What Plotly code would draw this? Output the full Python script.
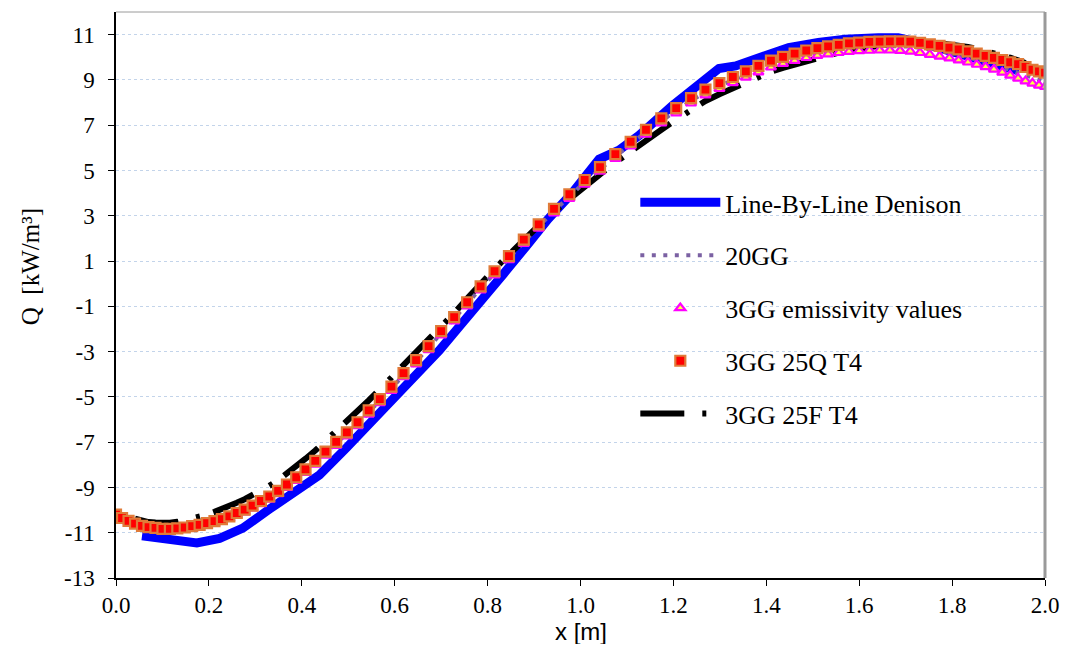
import plotly.graph_objects as go

# ---------------- data ----------------
x_grid = [0.000, 0.013, 0.027, 0.041, 0.056, 0.070, 0.085, 0.100, 0.116, 0.132,
          0.148, 0.164, 0.180, 0.196, 0.212, 0.228, 0.244, 0.260, 0.277, 0.294,
          0.312, 0.330, 0.349, 0.368, 0.388, 0.408, 0.429, 0.451, 0.474, 0.497,
          0.520, 0.544, 0.568, 0.593, 0.619, 0.646, 0.673, 0.700, 0.728, 0.756,
          0.785, 0.815, 0.846, 0.878, 0.910, 0.943, 0.976, 1.009, 1.042, 1.075,
          1.108, 1.141, 1.174, 1.206, 1.238, 1.269, 1.299, 1.328, 1.356, 1.383,
          1.410, 1.436, 1.461, 1.486, 1.510, 1.533, 1.556, 1.578, 1.600, 1.622,
          1.644, 1.666, 1.688, 1.710, 1.731, 1.752, 1.773, 1.794, 1.814, 1.834,
          1.853, 1.872, 1.890, 1.908, 1.925, 1.942, 1.958, 1.973, 1.987, 2.000]

q_25q = [-10.20, -10.35, -10.48, -10.60, -10.70, -10.75, -10.79, -10.83, -10.83, -10.81,
         -10.77, -10.71, -10.65, -10.58, -10.49, -10.40, -10.28, -10.13, -9.98, -9.80,
         -9.60, -9.40, -9.15, -8.87, -8.55, -8.20, -7.83, -7.42, -6.99, -6.57,
         -6.12, -5.60, -5.10, -4.55, -3.95, -3.38, -2.76, -2.10, -1.48, -0.82,
         -0.12, 0.55, 1.22, 1.95, 2.62, 3.30, 3.95, 4.58, 5.15, 5.72,
         6.27, 6.80, 7.30, 7.75, 8.20, 8.57, 8.86, 9.13, 9.38, 9.62,
         9.85, 10.02, 10.16, 10.30, 10.40, 10.48, 10.55, 10.61, 10.65, 10.68,
         10.69, 10.70, 10.70, 10.69, 10.64, 10.57, 10.50, 10.43, 10.35, 10.26,
         10.16, 10.06, 9.97, 9.88, 9.78, 9.70, 9.57, 9.45, 9.38, 9.32]

q_emis = [-10.25, -10.40, -10.53, -10.65, -10.75, -10.81, -10.85, -10.89, -10.90, -10.88,
          -10.84, -10.79, -10.73, -10.67, -10.58, -10.49, -10.38, -10.24, -10.09, -9.92,
          -9.73, -9.53, -9.29, -9.01, -8.70, -8.35, -7.98, -7.58, -7.15, -6.73,
          -6.28, -5.77, -5.27, -4.72, -4.12, -3.55, -2.93, -2.27, -1.65, -0.99,
          -0.29, 0.38, 1.05, 1.77, 2.44, 3.12, 3.76, 4.39, 4.96, 5.52,
          6.07, 6.59, 7.09, 7.53, 7.97, 8.33, 8.61, 8.87, 9.11, 9.34,
          9.56, 9.72, 9.85, 9.98, 10.07, 10.14, 10.20, 10.25, 10.28, 10.30,
          10.31, 10.31, 10.29, 10.26, 10.20, 10.12, 10.04, 9.96, 9.87, 9.78,
          9.68, 9.58, 9.47, 9.33, 9.20, 9.07, 8.95, 8.85, 8.76, 8.70]

q_20gg = [-10.22, -10.37, -10.50, -10.62, -10.72, -10.78, -10.82, -10.86, -10.86, -10.84,
          -10.80, -10.75, -10.69, -10.62, -10.53, -10.44, -10.33, -10.18, -10.03, -9.86,
          -9.66, -9.46, -9.22, -8.94, -8.62, -8.27, -7.90, -7.50, -7.07, -6.65,
          -6.20, -5.68, -5.18, -4.63, -4.03, -3.46, -2.84, -2.18, -1.56, -0.90,
          -0.20, 0.47, 1.14, 1.86, 2.53, 3.21, 3.86, 4.48, 5.05, 5.62,
          6.17, 6.70, 7.19, 7.64, 8.08, 8.45, 8.73, 9.00, 9.24, 9.48,
          9.70, 9.87, 10.00, 10.14, 10.23, 10.31, 10.37, 10.43, 10.47, 10.49,
          10.50, 10.50, 10.49, 10.47, 10.42, 10.35, 10.27, 10.19, 10.10, 10.00,
          9.89, 9.78, 9.67, 9.55, 9.43, 9.31, 9.19, 9.08, 8.99, 8.92]

x_25f = [0.041, 0.056, 0.070, 0.085, 0.100, 0.116, 0.132,
         0.148, 0.164, 0.180, 0.196, 0.212, 0.228, 0.244, 0.260, 0.277, 0.294,
         0.312, 0.330, 0.349, 0.368, 0.388, 0.408, 0.429, 0.451, 0.474, 0.497,
         0.520, 0.544, 0.568, 0.593, 0.619, 0.646, 0.673, 0.700, 0.728, 0.756,
         0.785, 0.815, 0.846, 0.878, 0.910, 0.943, 0.976, 1.009, 1.042, 1.075,
         1.108, 1.141, 1.174, 1.206, 1.238, 1.269, 1.299, 1.328, 1.356, 1.383,
         1.410, 1.436, 1.461, 1.486, 1.510, 1.533, 1.556, 1.578, 1.600, 1.622,
         1.644, 1.666, 1.688, 1.710, 1.731, 1.752, 1.773, 1.794, 1.814, 1.834,
         1.853, 1.872, 1.890, 1.908, 1.925, 1.942, 1.958]

q_25f = [-10.38, -10.48, -10.53, -10.55, -10.57, -10.56, -10.52,
         -10.45, -10.38, -10.30, -10.20, -10.08, -9.96, -9.83, -9.68, -9.52, -9.34,
         -9.14, -8.93, -8.68, -8.40, -8.08, -7.73, -7.37, -6.96, -6.53, -6.11,
         -5.66, -5.16, -4.67, -4.15, -3.62, -3.06, -2.47, -1.86, -1.30, -0.66,
         0.00, 0.65, 1.28, 1.96, 2.57, 3.18, 3.75, 4.33, 4.83, 5.35,
         5.85, 6.32, 6.80, 7.25, 7.70, 8.07, 8.37, 8.64, 8.89, 9.13,
         9.36, 9.53, 9.68, 9.84, 9.98, 10.10, 10.21, 10.30, 10.38, 10.46,
         10.52, 10.58, 10.63, 10.65, 10.66, 10.65, 10.62, 10.58, 10.53, 10.46,
         10.38, 10.29, 10.20, 10.10, 9.98, 9.86, 9.74]

x_lbl = [0.056, 0.115, 0.174, 0.223, 0.273, 0.331, 0.380, 0.438, 0.496, 0.552,
         0.610, 0.653, 0.696, 0.739, 0.788, 0.835, 0.883, 0.930, 0.982, 1.040,
         1.083, 1.126, 1.197, 1.240, 1.298, 1.334, 1.390, 1.448, 1.512, 1.570,
         1.641, 1.684, 1.740, 1.800, 1.870, 1.944]
q_lbl = [-11.14, -11.30, -11.45, -11.25, -10.80, -9.95, -9.30, -8.45, -7.25, -6.05,
         -4.90, -3.95, -2.95, -1.90, -0.75, 0.45, 1.65, 2.85, 4.00, 5.50,
         5.90, 6.55, 7.85, 8.55, 9.50, 9.62, 10.05, 10.43, 10.65, 10.80,
         10.86, 10.86, 10.60, 10.25, 9.85, 9.40]

series_names = ["Line-By-Line Denison", "20GG", "3GG emissivity values",
                "3GG 25Q T4", "3GG 25F T4"]

y_tick_vals = [-13, -11, -9, -7, -5, -3, -1, 1, 3, 5, 7, 9, 11]
y_tick_text = ["-13", "-11", "-9", "-7", "-5", "-3", "-1", "1", "3", "5", "7", "9", "11"]
x_tick_vals = [0.0, 0.2, 0.4, 0.6, 0.8, 1.0, 1.2, 1.4, 1.6, 1.8, 2.0]

# ---------------- figure ----------------
serif = "Times New Roman, Liberation Serif, DejaVu Serif, serif"
fig = go.Figure()

fig.add_trace(go.Scatter(
    x=x_lbl, y=q_lbl, mode="lines", name=series_names[0],
    line=dict(color="#0000FF", width=9), legendrank=1, legendgroup="a"))

fig.add_trace(go.Scatter(
    x=x_25f, y=q_25f, mode="lines", name=series_names[4],
    line=dict(color="#000000", width=6, dash="44px,18px,4px,14px"),
    legendrank=5, legendgroup="e"))

fig.add_trace(go.Scatter(
    x=x_grid, y=q_20gg, mode="lines", name=series_names[1],
    line=dict(color="#7B61A3", width=4, dash="4px,7.5px"),
    legendrank=2, legendgroup="b"))

fig.add_trace(go.Scatter(
    x=x_grid, y=q_emis, mode="markers", name=series_names[2],
    marker=dict(symbol="triangle-up", size=9, color="#FFFF40",
                line=dict(color="#FF00FF", width=2.2)),
    legendrank=3, legendgroup="c"))

fig.add_trace(go.Scatter(
    x=x_grid, y=q_25q, mode="markers", name=series_names[3],
    marker=dict(symbol="square", size=10, color="#FF0000",
                line=dict(color="#E07B39", width=2.2)),
    legendrank=4, legendgroup="d"))

fig.update_layout(
    width=1055, height=636,
    margin=dict(l=108, r=16, t=4, b=66),
    plot_bgcolor="white", paper_bgcolor="white",
    font=dict(family=serif, size=23, color="black"),
    legend=dict(x=0.559, y=0.705, xanchor="left", yanchor="top",
                font=dict(family=serif, size=26, color="black"),
                itemwidth=80, traceorder="grouped", tracegroupgap=16,
                bgcolor="rgba(0,0,0,0)"),
    xaxis=dict(range=[0, 2], tickvals=x_tick_vals, tickformat=".1f",
               showgrid=False, zeroline=False, showline=True,
               linecolor="black", linewidth=1.5, ticks="outside",
               ticklen=6, tickcolor="black",
               ticklabelstandoff=0,
               tickfont=dict(family=serif, size=23)),
    yaxis=dict(range=[-13, 12], tickvals=y_tick_vals, ticktext=y_tick_text,
               showgrid=True, gridcolor="#C3D4EA", griddash="dot", gridwidth=1,
               zeroline=False, showline=True, linecolor="black", linewidth=1.5,
               ticks="outside", ticklen=6, tickcolor="black",
               ticklabelstandoff=9,
               tickfont=dict(family=serif, size=23)),
    shapes=[
        dict(type="line", xref="paper", yref="paper", x0=0, x1=1, y0=1, y1=1,
             line=dict(color="#9A9A9A", width=1)),
        dict(type="line", xref="paper", yref="paper", x0=1, x1=1, y0=0, y1=1,
             line=dict(color="#9A9A9A", width=3)),
    ],
    annotations=[
        dict(text="x [m]", xref="paper", yref="paper", x=0.5, y=-0.095,
             xanchor="center", yanchor="middle", showarrow=False,
             font=dict(family="Liberation Sans, Arial, sans-serif", size=24)),
        dict(text="Q  [kW/m³]", xref="paper", yref="paper", x=-0.092, y=0.55,
             xanchor="center", yanchor="middle", showarrow=False, textangle=-90,
             font=dict(family=serif, size=25)),
    ],
)

fig.write_html("out.html")
